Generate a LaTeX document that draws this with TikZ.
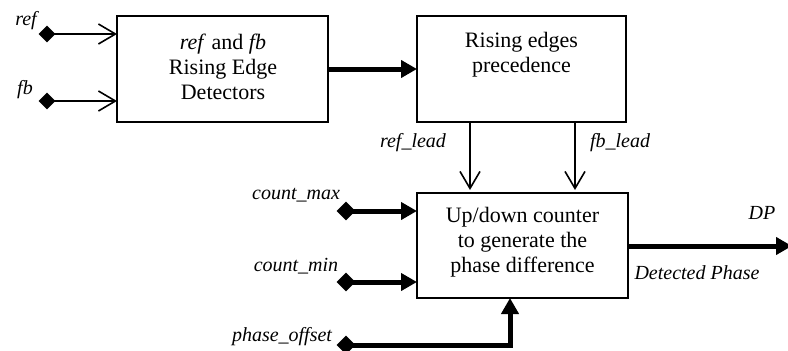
\documentclass[tikz,border=0pt]{standalone}
\usepackage{fontspec}
\setmainfont{Liberation Serif}
\usetikzlibrary{arrows.meta,shapes.geometric}
\begin{document}
\begin{tikzpicture}[x=1pt,y=-1pt,
  boxline/.style={line width=2pt},
  boxtext/.style={align=center,font=\fontsize{22}{25}\selectfont},
  sig/.style={font=\fontsize{20}{23}\selectfont\itshape,inner sep=0pt},
  pin/.style={diamond,fill,draw=none,inner sep=0pt,minimum width=#1,minimum height=#1},
  thinarr/.style={line width=1.6pt,-{Straight Barb[length=17pt,width=20pt]}},
  thickarr/.style={line width=5pt,-{Triangle[length=16pt,width=17pt]}}]
\useasboundingbox (0,0) rectangle (788,351);

% blocks
\draw[boxline] (117,16) rectangle (328,122);
\draw[boxline] (417,16) rectangle (626,122);
\draw[boxline] (417,193) rectangle (628,298);
\node[boxtext] (edgetxt) at (223,67) {\textit{ref} and \textit{fb}\\Rising Edge\\Detectors};
\node[boxtext] (prectxt) at (521.5,55) {Rising edges\\precedence};
\node[boxtext] (cnttxt) at (522.5,242) {Up/down counter\\to generate the\\phase difference};

% inputs of the edge detectors
\node[pin=17pt] (refP) at (47,34) {};
\coordinate (refE) at (117,34);
\node[pin=17pt] (fbP) at (47,101) {};
\coordinate (fbE) at (117,101);
\draw[thinarr] (refP.center) -- (refE);
\draw[thinarr] (fbP.center) -- (fbE);
\node[sig] (reflbl) at (26,21) {ref};
\node[sig] (fblbl) at (25,90) {fb};

% detectors -> precedence
\coordinate (detR) at (328,69);
\coordinate (precL) at (417,69);
\draw[thickarr] (detR) -- (precL);

% lead signals
\coordinate (rlS) at (470,122);
\coordinate (rlE) at (470,190);
\coordinate (flS) at (575,122);
\coordinate (flE) at (575,190);
\draw[thinarr] (rlS) -- (rlE);
\draw[thinarr] (flS) -- (flE);
\node[sig] (rllbl) at (413,143) {ref\_lead};
\node[sig] (fllbl) at (620,143) {fb\_lead};

% counter limits
\node[pin=19pt] (cmaxP) at (346,211) {};
\coordinate (cmaxE) at (417,211);
\node[pin=19pt] (cminP) at (346,282) {};
\coordinate (cminE) at (417,282);
\draw[thickarr] (cmaxP.center) -- (cmaxE);
\draw[thickarr] (cminP.center) -- (cminE);
\node[sig] (cmaxlbl) at (296,195) {count\_max};
\node[sig] (cminlbl) at (296,266) {count\_min};

% phase offset
\node[pin=19pt] (poP) at (346,345) {};
\coordinate (poC) at (510,345);
\coordinate (poE) at (510,298);
\draw[thickarr] (poP.center) -- (poC) -- (poE);
\node[sig] (polbl) at (282,337) {phase\_offset};

% output
\coordinate (dpS) at (628,246);
\coordinate (dpE) at (792,246);
\draw[thickarr] (dpS) -- (dpE);
\node[sig] (dplbl) at (762,213) {DP};
\node[sig] (detlbl) at (697,273) {Detected Phase};
\end{tikzpicture}
\end{document}
